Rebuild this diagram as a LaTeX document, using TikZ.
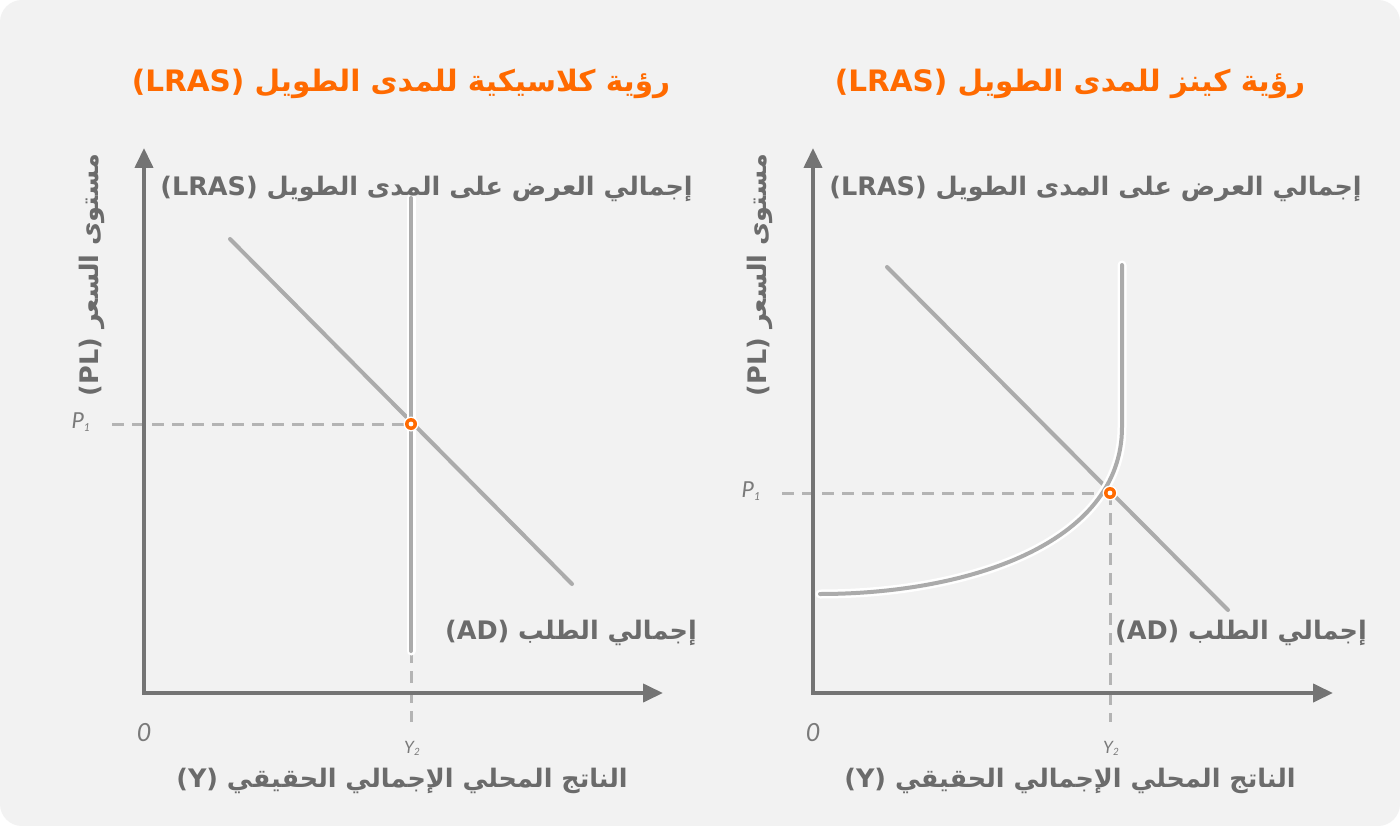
\documentclass[tikz,border=0pt]{standalone}
\usepackage{fontspec}
\usetikzlibrary{arrows.meta}
\TeXXeTstate=1
\newfontfamily\arabicfont[Script=Arabic]{DejaVu Sans}
\newfontfamily\latinfont{Lato}
\definecolor{bgc}{HTML}{F2F2F2}
\definecolor{orangec}{HTML}{FF6A00}
\definecolor{textc}{HTML}{6B6B6B}
\definecolor{axisc}{HTML}{747474}
\definecolor{curvec}{HTML}{ABABAB}
\definecolor{dashc}{HTML}{B4B4B4}
\definecolor{tickc}{HTML}{7A7A7A}
\tikzset{
  axisline/.style={draw=axisc, line width=4pt, line join=miter,
    {Triangle[length=20pt,width=18pt]}-{Triangle[length=20pt,width=18pt]}},
  curveline/.style={draw=curvec, line width=4pt, line cap=round},
  haloline/.style={draw=white, line width=9pt, line cap=round},
  guide/.style={draw=dashc, line width=3pt, dash pattern=on 12pt off 8pt},
  ttl/.style={inner sep=0pt, text=orangec, font=\arabicfont\bfseries\fontsize{29.5}{34}\selectfont},
  lbl/.style={inner sep=0pt, text=textc, font=\arabicfont\bfseries\fontsize{25.5}{30}\selectfont},
  ticklbl/.style={text=tickc, font=\latinfont\itshape\fontsize{22}{24}\selectfont},
  smalltick/.style={text=tickc, font=\latinfont\itshape\fontsize{17}{19}\selectfont},
  zerolbl/.style={text=tickc, font=\latinfont\itshape\fontsize{25}{28}\selectfont},
}
\newcommand{\eqmark}[1]{%
  \fill[white] (#1) circle (7.5pt);
  \fill[orangec] (#1) circle (6pt);
  \fill[white] (#1) circle (2.4pt);}
\begin{document}
\begin{tikzpicture}[x=1pt,y=-1pt]
\useasboundingbox (0,0) rectangle (1400,826);
\fill[white] (0,0) rectangle (1400,826);
\fill[bgc, rounded corners=22pt] (0,0) rectangle (1400,826);

% ---------- Left panel (classical) ----------
\coordinate (ytL) at (144,148);
\coordinate (xtL) at (663,693);
\coordinate (eqL) at (411,424);
\coordinate (p1sL) at (112,424);
\coordinate (adaL) at (230,239);
\coordinate (adbL) at (572,584);
\coordinate (lrtL) at (411,198);
\coordinate (lrbL) at (411,651);
\coordinate (y2eL) at (411,722);

\draw[guide] (p1sL) -- (eqL);
\draw[guide] (lrbL) -- (y2eL);
\draw[axisline] (ytL) |- (xtL);
\draw[curveline] (adaL) -- (adbL);
\draw[haloline] (lrtL) -- (lrbL);
\draw[curveline] (lrtL) -- (lrbL);
\eqmark{eqL}

\node[ttl] (titleL) at (401,84) {\beginR رؤية كلاسيكية للمدى الطويل \beginL(LRAS)\endL\endR};
\node[lbl, anchor=east] (lrasL) at (693,189) {\beginR إجمالي العرض على المدى الطويل \beginL(LRAS)\endL\endR};
\node[lbl, anchor=east] (adL) at (697,633) {\beginR إجمالي الطلب \beginL(AD)\endL\endR};
\node[lbl] (xlabL) at (402,781) {\beginR الناتج المحلي الإجمالي الحقيقي \beginL(Y)\endL\endR};
\node[lbl, rotate=90] (ylabL) at (92,275) {\beginR مستوى السعر \beginL(PL)\endL\endR};
\node[ticklbl] (p1L) at (81,422) {P\raisebox{-3pt}{\fontsize{11}{11}\selectfont 1}};
\node[smalltick] (y2L) at (412,748) {Y\raisebox{-2pt}{\fontsize{10}{10}\selectfont 2}};
\node[zerolbl] (zeroL) at (144,733) {0};

% ---------- Right panel (Keynesian) ----------
\coordinate (ytR) at (813,148);
\coordinate (xtR) at (1333,693);
\coordinate (eqR) at (1110,493);
\coordinate (p1sR) at (782,493);
\coordinate (adaR) at (887,267);
\coordinate (adbR) at (1228,610);
\coordinate (csR) at (820,594);
\coordinate (ckR) at (1122,427);
\coordinate (ctR) at (1122,265);
\coordinate (y2eR) at (1110,722);

\draw[guide] (p1sR) -- (eqR);
\draw[guide] (eqR) -- (y2eR);
\draw[axisline] (ytR) |- (xtR);
\draw[curveline] (adaR) -- (adbR);
\draw[haloline] (csR) .. controls (965,594) and (1122,545) .. (ckR) -- (ctR);
\draw[curveline] (csR) .. controls (965,594) and (1122,545) .. (ckR) -- (ctR);
\eqmark{eqR}

\node[ttl] (titleR) at (1070,84) {\beginR رؤية كينز للمدى الطويل \beginL(LRAS)\endL\endR};
\node[lbl, anchor=east] (lrasR) at (1362,189) {\beginR إجمالي العرض على المدى الطويل \beginL(LRAS)\endL\endR};
\node[lbl, anchor=east] (adR) at (1367,633) {\beginR إجمالي الطلب \beginL(AD)\endL\endR};
\node[lbl] (xlabR) at (1070,781) {\beginR الناتج المحلي الإجمالي الحقيقي \beginL(Y)\endL\endR};
\node[lbl, rotate=90] (ylabR) at (760,275) {\beginR مستوى السعر \beginL(PL)\endL\endR};
\node[ticklbl] (p1R) at (751,491) {P\raisebox{-3pt}{\fontsize{11}{11}\selectfont 1}};
\node[smalltick] (y2R) at (1111,748) {Y\raisebox{-2pt}{\fontsize{10}{10}\selectfont 2}};
\node[zerolbl] (zeroR) at (813,733) {0};
\end{tikzpicture}
\end{document}
